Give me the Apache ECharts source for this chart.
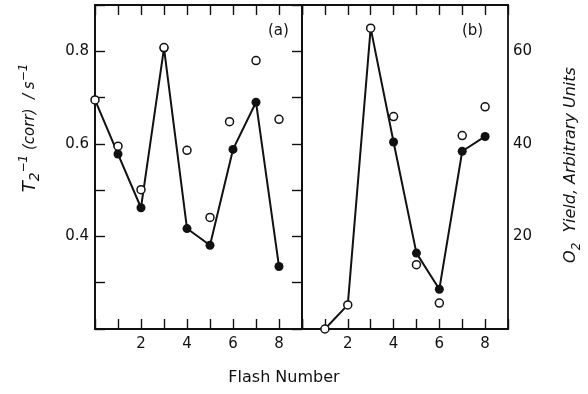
<!DOCTYPE html>
<html>
<head>
<meta charset="utf-8">
<script src="https://cdn.jsdelivr.net/npm/echarts@6/dist/echarts.min.js"></script>
<style>html,body{margin:0;padding:0;background:#fff}#c{width:588px;height:394px}</style>
</head>
<body>
<div id="c"></div>
<script>
// Panel (a): T2^-1 (corr) vs flash number
const aLineX = [0, 1, 2, 3, 4, 5, 6, 7, 8];
const aLineY = [0.695, 0.578, 0.462, 0.807, 0.417, 0.381, 0.588, 0.690, 0.335];
const aFilledX = [1, 2, 3, 4, 5, 6, 7, 8];
const aFilledY = [0.578, 0.462, 0.807, 0.417, 0.381, 0.588, 0.690, 0.335];
const aOpenX = [0, 1, 2, 3, 4, 5, 5.85, 7, 8];
const aOpenY = [0.695, 0.595, 0.501, 0.808, 0.586, 0.441, 0.648, 0.780, 0.653];
// Panel (b): O2 yield vs flash number
const bLineX = [1, 2, 3, 4, 5, 6, 7, 8];
const bLineY = [0, 5.2, 65, 40.4, 16.4, 8.6, 38.4, 41.6];
const bFilledX = [4, 5, 6, 7, 8];
const bFilledY = [40.4, 16.4, 8.6, 38.4, 41.6];
const bOpenX = [1, 2, 3, 4, 5, 6, 7, 8];
const bOpenY = [0, 5.2, 65, 45.9, 13.9, 5.6, 41.8, 48.0];
// Tick labels shown
const xTickLabels = [2, 4, 6, 8];
const aTickLabels = [0.4, 0.6, 0.8];
const bTickLabels = [20, 40, 60];

const INK = '#111';
const FONT = 'DejaVu Sans';
const zip = (xs, ys) => xs.map((x, i) => [x, ys[i]]);

function xAx(grid, pos) {
  return {
    type: 'value', gridIndex: grid, position: pos, min: 0, max: 9, interval: 1,
    axisLine: {show: true, lineStyle: {color: INK, width: 1.8}},
    axisTick: {show: true, inside: true, length: 10, lineStyle: {color: INK, width: 1.4}},
    axisLabel: {show: pos === 'bottom', margin: 8, color: INK, fontFamily: FONT, fontSize: 15,
      formatter: v => xTickLabels.includes(Math.round(v)) && Math.abs(v - Math.round(v)) < 1e-6 ? String(v) : ''},
    splitLine: {show: false}
  };
}

const option = {
  animation: false,
  backgroundColor: '#fff',
  grid: [
    {left: 95, top: 5, width: 207, height: 324, show: true, borderColor: INK, borderWidth: 1.8},
    {left: 302, top: 5, width: 206, height: 324, show: true, borderColor: INK, borderWidth: 1.8}
  ],
  xAxis: [xAx(0, 'bottom'), xAx(0, 'top'), xAx(1, 'bottom'), xAx(1, 'top')],
  yAxis: [
    {type: 'value', gridIndex: 0, position: 'left', min: 0.2, max: 0.9, interval: 0.1,
      axisLine: {show: true, lineStyle: {color: INK, width: 1.8}},
      axisTick: {show: true, inside: true, length: 10, lineStyle: {color: INK, width: 1.4}},
      axisLabel: {margin: 6, color: INK, fontFamily: FONT, fontSize: 15,
        formatter: v => aTickLabels.some(t => Math.abs(t - v) < 1e-6) ? v.toFixed(1) : ''},
      splitLine: {show: false}},
    {type: 'value', gridIndex: 1, position: 'right', min: 0, max: 70, interval: 10,
      axisLine: {show: true, lineStyle: {color: INK, width: 1.8}},
      axisTick: {show: true, inside: true, length: 10, lineStyle: {color: INK, width: 1.4}},
      axisLabel: {margin: 5, color: INK, fontFamily: FONT, fontSize: 15,
        formatter: v => bTickLabels.includes(v) ? String(v) : ''},
      splitLine: {show: false}}
  ],
  series: [
    {type: 'line', xAxisIndex: 0, yAxisIndex: 0, data: zip(aLineX, aLineY), symbol: 'none', clip: false,
      lineStyle: {color: INK, width: 2}, z: 2},
    {type: 'scatter', xAxisIndex: 0, yAxisIndex: 0, data: zip(aFilledX, aFilledY), symbol: 'circle', symbolSize: 9,
      clip: false, itemStyle: {color: INK, opacity: 1}, z: 3},
    {type: 'scatter', xAxisIndex: 0, yAxisIndex: 0, data: zip(aOpenX, aOpenY), symbol: 'circle', symbolSize: 8,
      clip: false, itemStyle: {color: '#fff', borderColor: INK, borderWidth: 1.5, opacity: 1}, z: 4},
    {type: 'line', xAxisIndex: 2, yAxisIndex: 1, data: zip(bLineX, bLineY), symbol: 'none', clip: false,
      lineStyle: {color: INK, width: 2}, z: 2},
    {type: 'scatter', xAxisIndex: 2, yAxisIndex: 1, data: zip(bFilledX, bFilledY), symbol: 'circle', symbolSize: 9,
      clip: false, itemStyle: {color: INK, opacity: 1}, z: 3},
    {type: 'scatter', xAxisIndex: 2, yAxisIndex: 1, data: zip(bOpenX, bOpenY), symbol: 'circle', symbolSize: 8,
      clip: false, itemStyle: {color: '#fff', borderColor: INK, borderWidth: 1.5, opacity: 1}, z: 4}
  ],
  graphic: [
    {type: 'text', left: 268, top: 24, style: {text: '(a)', font: '15px "DejaVu Sans"', fill: INK}},
    {type: 'text', left: 462, top: 24, style: {text: '(b)', font: '15px "DejaVu Sans"', fill: INK}},
    {type: 'text', x: 284, y: 378, style: {text: 'Flash Number', font: '16px "DejaVu Sans"', fill: INK,
      align: 'center', verticalAlign: 'middle'}},
    {type: 'text', x: 30, y: 128, rotation: Math.PI / 2,
      style: {
        text: '{t|T}{sub|2}{sup|−1}{n| (corr)  / s}{sup|−1}',
        align: 'center', verticalAlign: 'middle', fill: INK,
        rich: {
          t: {fontFamily: FONT, fontStyle: 'italic', fontSize: 18, fill: INK, verticalAlign: 'middle'},
          sub: {fontFamily: FONT, fontStyle: 'italic', fontSize: 14, fill: INK, verticalAlign: 'bottom', lineHeight: 24},
          sup: {fontFamily: FONT, fontStyle: 'italic', fontSize: 12, fill: INK, verticalAlign: 'top', lineHeight: 24},
          n: {fontFamily: FONT, fontStyle: 'italic', fontSize: 15, fill: INK, verticalAlign: 'middle'}
        }
      }},
    {type: 'text', x: 571, y: 165, rotation: Math.PI / 2,
      style: {
        text: '{n|O}{sub|2}{n|  Yield, Arbitrary Units}',
        align: 'center', verticalAlign: 'middle', fill: INK,
        rich: {
          n: {fontFamily: FONT, fontStyle: 'italic', fontSize: 16, fill: INK, verticalAlign: 'middle'},
          sub: {fontFamily: FONT, fontStyle: 'italic', fontSize: 12, fill: INK, verticalAlign: 'bottom', lineHeight: 24}
        }
      }}
  ]
};
const chart = echarts.init(document.getElementById('c'), null, {renderer: 'canvas'});
chart.setOption(option);
</script>
</body>
</html>
